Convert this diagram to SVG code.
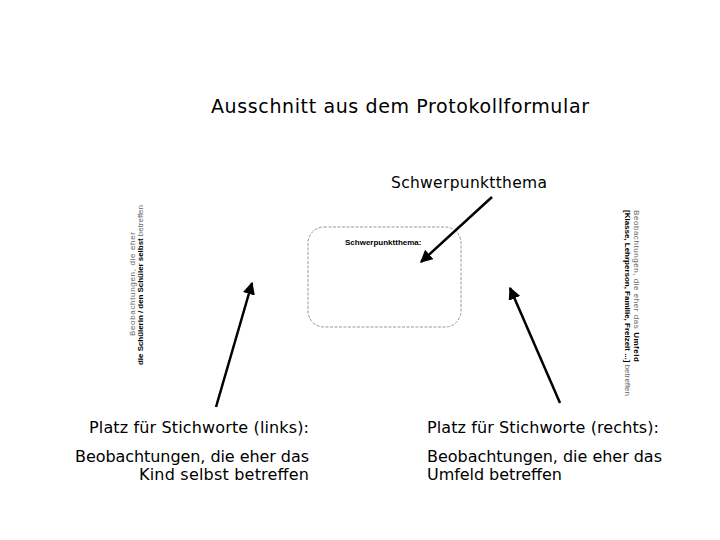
<svg xmlns="http://www.w3.org/2000/svg" width="720" height="540" viewBox="0 0 720 540">
<defs>
<marker id="ah" viewBox="0 0 10 10" refX="9" refY="5" markerWidth="5" markerHeight="5" orient="auto" markerUnits="strokeWidth">
<path d="M0,0 L10,5 L0,10 z" fill="#000"/>
</marker>
<style>
.t{font-family:"DejaVu Sans",Verdana,sans-serif;fill:#000}
.s{font-family:"Liberation Sans",Arial,sans-serif;font-size:8px;fill:#222}
.g{fill:#666}
.b{font-weight:bold;fill:#000}
.ln{stroke:#000;stroke-width:2.5;fill:none;marker-end:url(#ah)}
</style>
</defs>
<rect width="720" height="540" fill="#fff"/>
<g id="title"><text class="t" x="211" y="113" font-size="19" textLength="378" lengthAdjust="spacing">Ausschnitt aus dem Protokollformular</text></g>
<g id="label-schwerpunkt"><text class="t" x="391" y="188" font-size="15.5" textLength="156" lengthAdjust="spacing">Schwerpunktthema</text></g>
<g id="form-box">
<rect x="308" y="227" width="153" height="100" rx="16" fill="none" stroke="#999" stroke-width="1" stroke-dasharray="3,1.5"/>
<text class="s b" x="345" y="245" font-size="8">Schwerpunktthema:</text>
</g>
<g id="left-vertical">
<text class="s" transform="translate(135,284) rotate(-90)" text-anchor="middle" textLength="104" lengthAdjust="spacing"><tspan class="g">Beobachtungen, die eher</tspan></text>
<text class="s" transform="translate(143,285) rotate(-90)" text-anchor="middle" textLength="160" lengthAdjust="spacing"><tspan class="b">die Schülerin / den Schüler selbst</tspan><tspan class="g"> betreffen</tspan></text>
</g>
<g id="right-vertical">
<text class="s" transform="translate(634,210) rotate(90)" textLength="152" lengthAdjust="spacing"><tspan class="g">Beobachtungen, die eher das </tspan><tspan class="b">Umfeld</tspan></text>
<text class="s" transform="translate(625,210) rotate(90)" textLength="186" lengthAdjust="spacing"><tspan class="b">[Klasse, Lehrperson, Familie, Freizeit ...]</tspan><tspan class="g"> betreffen</tspan></text>
</g>
<g id="left-text">
<text class="t" x="309" y="433" font-size="16" text-anchor="end" textLength="220" lengthAdjust="spacing">Platz für Stichworte (links):</text>
<text class="t" x="309" y="462" font-size="16" text-anchor="end" textLength="234" lengthAdjust="spacing">Beobachtungen, die eher das</text>
<text class="t" x="309" y="480" font-size="16" text-anchor="end" textLength="170" lengthAdjust="spacing">Kind selbst betreffen</text>
</g>
<g id="right-text">
<text class="t" x="427" y="433" font-size="16" textLength="232" lengthAdjust="spacing">Platz für Stichworte (rechts):</text>
<text class="t" x="427" y="462" font-size="16" textLength="235" lengthAdjust="spacing">Beobachtungen, die eher das</text>
<text class="t" x="427" y="480" font-size="16" textLength="135" lengthAdjust="spacing">Umfeld betreffen</text>
</g>
<g id="connectors">
<line class="ln" x1="216" y1="407" x2="252" y2="283"/>
<line class="ln" x1="560" y1="403" x2="510" y2="288"/>
<line class="ln" x1="492" y1="197" x2="421" y2="262"/>
</g>
</svg>
